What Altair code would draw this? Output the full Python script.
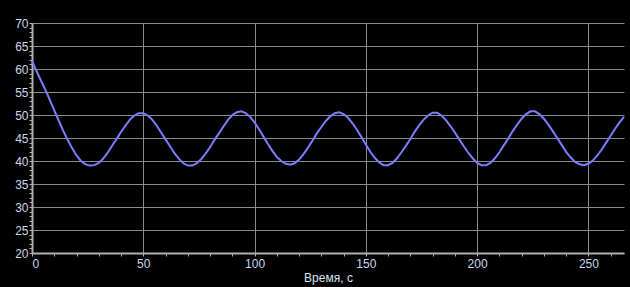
import altair as alt
import pandas as pd

# Time, s (sampled every 2 s)
time_s = list(range(0, 268, 2))

values = [
    61.7, 59.6, 57.5, 55.5, 53.3, 51.0, 48.8, 46.6, 44.6, 42.8,   # 0-18
    41.2, 40.0, 39.3, 39.0, 39.1, 39.6, 40.5, 41.8, 43.3, 44.8,   # 20-38
    46.3, 47.7, 49.0, 49.9, 50.4, 50.4, 49.9, 49.0, 47.7, 46.2,   # 40-58
    44.7, 43.2, 41.7, 40.5, 39.5, 39.0, 39.0, 39.5, 40.4, 41.6,   # 60-78
    43.0, 44.6, 46.0, 47.5, 48.9, 50.0, 50.6, 50.8, 50.4, 49.6,   # 80-98
    48.4, 46.9, 45.3, 43.7, 42.2, 40.9, 40.0, 39.4, 39.2, 39.5,   # 100-118
    40.3, 41.5, 42.9, 44.4, 46.0, 47.4, 48.7, 49.7, 50.4, 50.6,   # 120-138
    50.2, 49.4, 48.2, 46.8, 45.2, 43.6, 42.0, 40.7, 39.7, 39.1,   # 140-158
    39.1, 39.6, 40.6, 41.9, 43.3, 44.8, 46.4, 47.8, 49.0, 49.9,   # 160-178
    50.5, 50.5, 49.9, 48.9, 47.6, 46.2, 44.7, 43.2, 41.8, 40.6,   # 180-198
    39.6, 39.1, 39.1, 39.6, 40.6, 41.9, 43.4, 44.9, 46.5, 47.9,   # 200-218
    49.2, 50.2, 50.8, 50.8, 50.2, 49.2, 47.9, 46.5, 45.0, 43.5,   # 220-238
    42.0, 40.8, 39.8, 39.3, 39.1, 39.4, 40.1, 41.2, 42.5, 44.0,   # 240-258
    45.5, 47.0, 48.4, 49.6,                                        # 260-266
]

x_ticks = list(range(0, 261, 10))
y_ticks = list(range(20, 71, 1))
x_title = "Время, с"

df = pd.DataFrame({"t": time_s, "v": values})

label_color = "#c8d8ec"
grid_color = "#8a8a8a"
axis_color = "#b0b0b0"

chart = (
    alt.Chart(df)
    .mark_line(color="#7c7cff", strokeWidth=2)
    .encode(
        x=alt.X(
            "t:Q",
            scale=alt.Scale(domain=[0, 266], nice=False, zero=False),
            axis=alt.Axis(
                title=x_title,
                values=x_ticks,
                labelExpr="datum.value % 50 === 0 ? datum.label : ''",
                gridOpacity={"condition": {"test": "datum.value % 50 === 0", "value": 1}, "value": 0},
                tickSize=3,
                labelPadding=2,
                titlePadding=3,
            ),
        ),
        y=alt.Y(
            "v:Q",
            scale=alt.Scale(domain=[20, 70], nice=False, zero=False),
            axis=alt.Axis(
                title=None,
                values=y_ticks,
                labelExpr="datum.value % 5 === 0 ? datum.label : ''",
                gridOpacity={"condition": {"test": "datum.value % 5 === 0", "value": 1}, "value": 0},
                tickSize=3,
                labelPadding=1,
            ),
        ),
    )
    .properties(
        width=592,
        height=230,
        background="#000000",
        padding={"left": 32, "top": 23, "right": 6, "bottom": 34},
        autosize=alt.AutoSizeParams(type="none"),
    )
    .configure_view(stroke=None)
    .configure_axis(
        gridColor=grid_color,
        gridWidth=1,
        domainColor=axis_color,
        domainWidth=2,
        tickColor=axis_color,
        tickWidth=1,
        labelColor=label_color,
        labelFont="Liberation Sans",
        labelFontSize=12,
        titleColor="#d8e4f0",
        titleFont="Liberation Sans",
        titleFontSize=12,
        titleFontWeight="normal",
        labelOverlap=False,
    )
)

chart.save("out.html", embed_options={"renderer": "svg", "actions": False})
